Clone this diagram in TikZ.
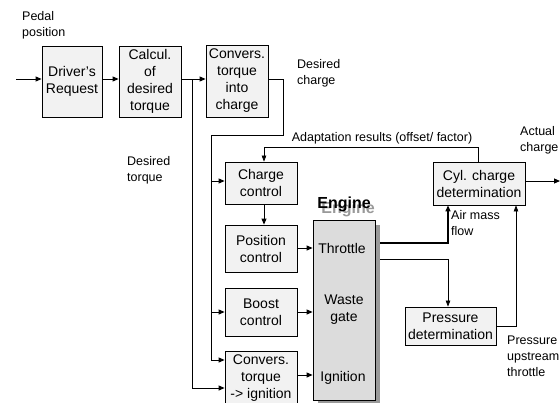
\documentclass[tikz,border=0pt]{standalone}
\usepackage{fontspec}
\setmainfont{Liberation Sans}
\usetikzlibrary{arrows.meta}
\definecolor{boxfill}{HTML}{F2F2F2}
\definecolor{engfill}{HTML}{DCDCDC}
\definecolor{shadowc}{HTML}{999999}
\tikzset{
  blk/.style={draw=black, line width=0.8pt, fill=boxfill, align=center, inner sep=1pt,
    font=\fontsize{14}{17}\selectfont},
  lbl/.style={align=left, inner sep=0pt, font=\fontsize{12.5}{16}\selectfont},
  eng/.style={inner sep=0pt, align=center, font=\fontsize{14}{17}\selectfont},
  conn/.style={line width=1pt, -{Triangle[length=6pt,width=5pt]}},
  plain/.style={line width=1pt},
  thin/.style={line width=0.7pt, -{Triangle[length=6pt,width=4.5pt]}},
}
\begin{document}
\begin{tikzpicture}[x=1pt,y=-1pt]
\useasboundingbox (0,0) rectangle (560,402);
% blocks
\node[blk, minimum width=60pt, minimum height=71pt] (drv) at (72,81.5) {Driver's\\Request};
\node[blk, minimum width=62pt, minimum height=71pt] (calc) at (150,81.5) {Calcul.\\of\\desired\\torque};
\node[blk, minimum width=62pt, minimum height=72pt] (conv) at (237,81) {Convers.\\torque\\into\\charge};
\node[blk, minimum width=72pt, minimum height=42pt] (cc) at (261,183) {Charge\\control};
\node[blk, minimum width=72pt, minimum height=47pt] (pc) at (261,248.5) {Position\\control};
\node[blk, minimum width=72pt, minimum height=48pt] (bc) at (261,312) {Boost\\control};
\node[blk, minimum width=72pt, minimum height=54pt] (ci) at (261,378) {Convers.\\torque\\-> ignition};
\node[blk, minimum width=92pt, minimum height=43pt] (cyl) at (479,183.5) {Cyl. charge\\determination};
\node[blk, minimum width=91pt, minimum height=38pt] (pd) at (450.5,326) {Pressure\\determination};
% engine
\fill[shadowc] (318,225) rectangle (380,404);
\node[draw=black, line width=0.8pt, fill=engfill, minimum width=62pt, minimum height=180pt, inner sep=0pt] (engine) at (344,310) {};
\node[eng, text=shadowc, font=\fontsize{16}{19}\bfseries] (engsh) at (348,209) {Engine};
\node[eng, font=\fontsize{16}{19}\bfseries] (engt) at (344,204) {Engine};
\node[eng] (thr) at (342,248) {Throttle};
\node[eng] (wg) at (344,310) {Waste\\gate};
\node[eng] (ign) at (343,378) {Ignition};
% labels
\node[lbl, anchor=west] (lpedal) at (22,25) {Pedal\\position};
\node[lbl, anchor=west] (ldc) at (297,73) {Desired\\charge};
\node[lbl, anchor=west] (ldt) at (127,170) {Desired\\torque};
\node[lbl, anchor=center] (ladapt) at (382,138) {Adaptation results (offset/ factor)};
\node[lbl, anchor=west] (lact) at (520,140) {Actual\\charge};
\node[lbl, anchor=west] (lair) at (451,223) {Air mass\\flow};
\node[lbl, anchor=west] (lpress) at (507,356) {Pressure\\upstream\\throttle};
% coordinates
\coordinate (in) at (16,79);
\coordinate (b1) at (192,79);
\coordinate (b2) at (192,388);
\coordinate (c1) at (283,79);
\coordinate (c2) at (283,135);
\coordinate (c3) at (211,135);
\coordinate (c4) at (211,360);
\coordinate (d1) at (211,181);
\coordinate (d2) at (211,312);
\coordinate (a1) at (478,147);
\coordinate (a2) at (264,147);
\coordinate (t1) at (380,243);
\coordinate (t2) at (448,243);
\coordinate (p1) at (380,259);
\coordinate (p2) at (448,259);
\coordinate (q1) at (516,326);
\coordinate (out) at (560,181);
% connectors
\draw[conn] (in) -- (in -| drv.west);
\draw[conn] (drv.east |- in) -- (in -| calc.west);
\draw[conn] (calc.east |- in) -- (in -| conv.west);
\draw[conn] (b1) -- (b2) -- (b2 -| ci.west);
\draw[plain] (conv.east |- c1) -- (c1) -- (c2) -- (c3) -- (c4);
\draw[conn] (c4) -- (c4 -| ci.west);
\draw[conn] (d1) -- (d1 -| cc.west);
\draw[conn] (d2) -- (d2 -| bc.west);
\draw[conn] (a2 |- cc.south) -- (a2 |- pc.north);
\draw[thin] (a1 |- cyl.north) -- (a1) -- (a2) -- (a2 |- cc.north);
\draw[conn] (pc.east |- thr) -- (engine.west |- thr);
\draw[conn] (bc.east |- d2) -- (engine.west |- d2);
\draw[conn] (ci.east |- 0,375) -- (engine.west |- 0,375);
\draw[line width=1.4pt, -{Triangle[length=6pt,width=5pt]}] (t1) -- (t2) -- (t2 |- cyl.south);
\draw[thin] (p1) -- (p2) -- (p2 |- pd.north);
\draw[thin] (pd.east |- q1) -- (q1) -- (q1 |- cyl.south);
\draw[conn] (cyl.east |- out) -- (out);
\end{tikzpicture}
\end{document}
